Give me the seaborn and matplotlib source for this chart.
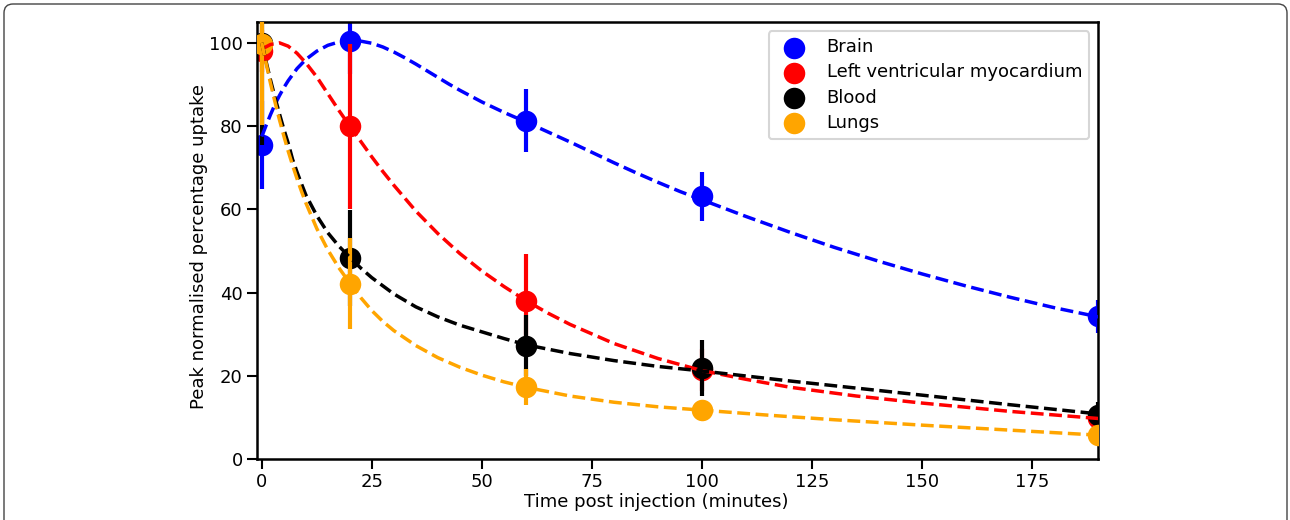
import numpy as np
import pandas as pd
import matplotlib
matplotlib.use("Agg")
import matplotlib.pyplot as plt
import seaborn as sns
from matplotlib.patches import FancyBboxPatch

# ---- measured data ----
times = [0, 20, 60, 100, 190]
series_names = ["Brain", "Left ventricular myocardium", "Blood", "Lungs"]
series_colors = ["blue", "red", "black", "orange"]

brain = [75.5, 100.4, 81.3, 63.2, 34.3]
brain_err = [10.5, 8.0, 7.6, 5.9, 4.0]
lv = [98.0, 80.0, 38.1, 21.5, 10.0]
lv_err = [5.0, 19.8, 11.2, 5.0, 3.0]
blood = [100.0, 48.3, 27.3, 21.9, 10.7]
blood_err = [24.6, 11.6, 7.4, 6.7, 3.0]
lungs = [99.7, 42.2, 17.3, 11.9, 5.8]
lungs_err = [19.5, 11.0, 4.3, 2.0, 2.0]

# fitted curves
fit_t_brain = [0, 1, 2, 3, 4, 5, 6, 8, 10, 12.5, 15, 17.5, 20, 22.5, 25, 27.5, 30, 32.5,
               35, 37.5, 40, 42.5, 45, 47.5, 50, 55, 60, 65, 70, 75, 80, 85, 90, 95, 100,
               110, 120, 130, 140, 150, 160, 170, 180, 190]
fit_brain = [77.5, 80.2, 82.8, 85.2, 87.3, 89.2, 90.9, 93.8, 96.0, 98.0, 99.4, 100.2, 100.5,
             100.4, 99.9, 99.0, 97.8, 96.4, 94.9, 93.3, 91.7, 90.1, 88.6, 87.2, 85.8, 83.3,
             81.0, 78.6, 76.2, 73.7, 71.2, 68.8, 66.5, 64.3, 62.3, 58.3, 54.5, 50.9, 47.6,
             44.5, 41.6, 38.9, 36.4, 34.2]
fit_t_lv = [0, 2, 4, 6, 8, 10, 12.5, 15, 17.5, 20, 22.5, 25, 27.5, 30, 35, 40, 45, 50, 55,
            60, 65, 70, 80, 90, 100, 110, 120, 135, 150, 170, 190]
fit_lv = [98.5, 99.6, 100.0, 99.2, 97.5, 95.2, 91.8, 87.8, 83.8, 80.0, 76.3, 72.6, 69.1,
          65.8, 59.6, 54.2, 49.4, 45.2, 41.5, 38.1, 35.1, 32.4, 27.8, 24.2, 21.3, 19.2,
          17.3, 15.2, 13.5, 11.5, 9.8]
fit_t_blood = [0, 1, 2, 3, 4, 5, 6, 7, 8, 9, 10, 12.5, 15, 17.5, 20, 22.5, 25, 30, 35, 40,
               45, 50, 55, 60, 70, 80, 90, 100, 110, 120, 135, 150, 170, 190]
fit_blood = [100, 95.4, 91.0, 86.9, 83.0, 79.3, 75.9, 72.0, 69.0, 66.2, 63.5, 58.5, 54.4,
             51.2, 48.5, 45.9, 43.6, 39.7, 36.6, 34.2, 32.2, 30.6, 29.0, 27.5, 25.4, 23.7,
             22.3, 21.2, 20.0, 18.8, 17.1, 15.4, 13.1, 10.9]
fit_t_lungs = [0, 1, 2, 3, 4, 5, 6, 7, 8, 9, 10, 12.5, 15, 17.5, 20, 22.5, 25, 27.5, 30,
               35, 40, 45, 50, 55, 60, 70, 80, 90, 100, 115, 130, 150, 170, 190]
fit_lungs = [100, 95.0, 90.2, 85.8, 81.6, 77.7, 74.0, 70.6, 67.4, 64.4, 61.6, 55.4, 50.3,
             46.0, 42.3, 38.8, 35.7, 33.1, 30.9, 27.3, 24.4, 22.1, 20.2, 18.6, 17.3, 15.2,
             13.7, 12.6, 11.8, 10.6, 9.5, 8.2, 7.0, 5.8]

x_ticks = [0, 25, 50, 75, 100, 125, 150, 175]
y_ticks = [0, 20, 40, 60, 80, 100]

# ---- figure ----
plt.rcParams["font.family"] = ["DejaVu Sans"]
FS = 13

fig = plt.figure(figsize=(12.9, 5.2), dpi=100)
ax = fig.add_axes([256.7 / 1290, 60.7 / 520, (1098.3 - 256.7) / 1290, (459.3 - 22) / 520])

vals = [brain, lv, blood, lungs]
errs = [brain_err, lv_err, blood_err, lungs_err]
fits = [(fit_t_brain, fit_brain), (fit_t_lv, fit_lv), (fit_t_blood, fit_blood),
        (fit_t_lungs, fit_lungs)]

for i, (name, c, v, e) in enumerate(zip(series_names, series_colors, vals, errs)):
    ax.errorbar(times, v, yerr=e, fmt="none", ecolor=c, elinewidth=3.0, capsize=0,
                zorder=2 + i * 0.2)
    df = pd.DataFrame({"t": times, "v": v})
    sns.scatterplot(data=df, x="t", y="v", color=c, s=240, linewidth=0, ax=ax,
                    label=name, zorder=2.1 + i * 0.2)

for i, (c, (ft, fv)) in enumerate(zip(series_colors, fits)):
    df = pd.DataFrame({"t": ft, "v": fv})
    sns.lineplot(data=df, x="t", y="v", color=c, linestyle="--", linewidth=2.5, ax=ax,
                 zorder=3 + i * 0.1, legend=False)

ax.set_xlim(-1.15, 190)
ax.set_ylim(0, 105)
ax.set_xticks(x_ticks)
ax.set_yticks(y_ticks)
ax.tick_params(axis="both", direction="out", length=7, width=1.5, labelsize=FS, pad=3)
for s in ax.spines.values():
    s.set_linewidth(1.8)
    s.set_color("black")
ax.set_xlabel("Time post injection (minutes)", fontsize=FS, labelpad=1)
ax.set_ylabel("Peak normalised percentage uptake", fontsize=FS, labelpad=1)
ax.xaxis.label.set_x(0.4745)
ax.yaxis.label.set_y(0.4866)

leg = ax.legend(loc="upper right", frameon=True, fontsize=FS, borderaxespad=0.5,
                handletextpad=0.8, labelspacing=0.4, markerscale=1.0)
leg.get_frame().set_edgecolor("#cccccc")
leg.get_frame().set_linewidth(1.5)

# figure frame
frame = FancyBboxPatch((0.04, -0.5), 12.83, 5.16 + 0.5,
                       boxstyle="round,pad=0,rounding_size=0.09",
                       transform=fig.dpi_scale_trans, fill=False,
                       edgecolor="#444444", linewidth=1.0)
fig.patches.append(frame)

fig.savefig("out.png", dpi=100)
